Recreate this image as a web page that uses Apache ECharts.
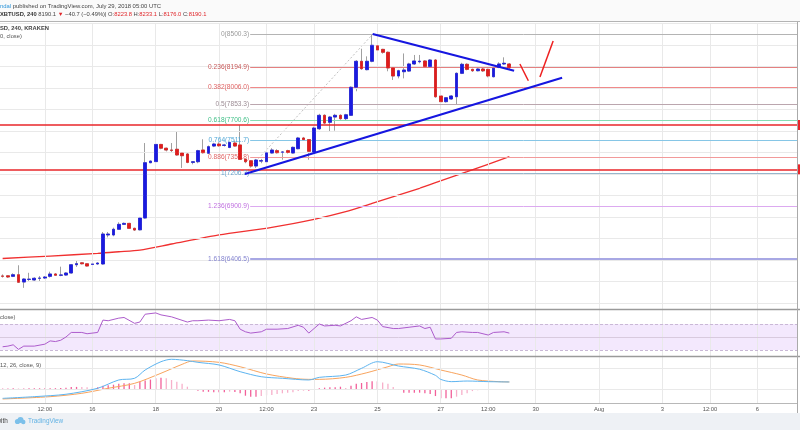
<!DOCTYPE html>
<html><head><meta charset="utf-8">
<script src="https://cdn.jsdelivr.net/npm/echarts@6/dist/echarts.min.js"></script>
<style>html,body{margin:0;padding:0;background:#fff}#c{width:800px;height:430px}</style>
</head><body><div id="c"></div>
<script>
// ---------- data ----------
// 4h slots starting 2018-07-13 04:00 UTC
const slotStart = Date.UTC(2018, 6, 13, 4);
const slotCount = 151;
const categories = [];
for (let k = 0; k < slotCount; k++) {
  const d = new Date(slotStart + k * 4 * 3600 * 1000);
  const p = n => (n < 10 ? '0' : '') + n;
  categories.push(p(d.getUTCMonth() + 1) + '-' + p(d.getUTCDate()) + ' ' + p(d.getUTCHours()) + ':00');
}
const tickCats = ['07-14 12:00','07-16 00:00','07-18 00:00','07-20 00:00','07-21 12:00','07-23 00:00','07-25 00:00','07-27 00:00','07-28 12:00','07-30 00:00','08-01 00:00','08-03 00:00','08-04 12:00','08-06 00:00'];
const tickLabels = ['12:00','16','18','20','12:00','23','25','27','12:00','30','Aug','3','12:00','6'];
const priceGrid = [6000,6200,6400,6600,6800,7000,7200,7400,7600,7800,8000,8200,8400,8600];

const opens  = [6250,6252,6247,6262,6194,6218,6213,6229,6231,6247,6269,6257,6259,6278,6355,6373,6364,6358,6362,6362,
  6632,6632,6685,6731,6740,6694,6680,6790,7305,7315,7475,7440,7423,7430,7395,7386,7308,7314,7423,7393,
  7460,7479,7466,7447,7488,7470,7336,7323,7274,7320,7314,7395,7417,7402,7417,7395,7435,7535,7520,7404,
  7621,7746,7681,7730,7746,7715,7746,8007,8249,8171,8249,8394,8360,8333,8187,8112,8152,8158,8224,8245,
  8252,8199,8261,7926,7873,7898,7919,8137,8221,8174,8161,8177,8174,8105,8193,8224,8223.8];
const highs  = [6265,6258,6275,6350,6230,6280,6238,6250,6250,6290,6278,6337,6285,6362,6390,6380,6370,6368,6378,6660,
  6660,6700,6750,6748,6745,6700,6800,7488,7325,7563,7480,7445,7488,7600,7400,7395,7320,7425,7523,7465,
  7490,7495,7480,7500,7510,7656,7340,7330,7340,7340,7430,7440,7430,7410,7425,7455,7545,7545,7525,7640,
  7760,7755,7740,7760,7755,7760,8015,8260,8366,8295,8503,8490,8365,8340,8190,8170,8322,8235,8308,8308,
  8260,8270,8270,7930,7915,7935,8145,8235,8230,8180,8185,8190,8180,8190,8240,8286,8233.1];
const lows   = [6235,6232,6240,6185,6140,6196,6205,6196,6222,6236,6250,6248,6252,6272,6335,6358,6338,6338,6355,6355,
  6610,6620,6680,6725,6690,6670,6675,6785,7300,7310,7430,7410,7395,7370,7256,7300,7290,7300,7390,7385,
  7450,7455,7455,7440,7455,7330,7300,7260,7255,7300,7305,7390,7390,7333,7390,7390,7430,7515,7333,7395,
  7610,7665,7597,7603,7705,7700,7740,7970,8170,8165,8240,8345,8320,8156,8075,8090,8090,8150,8215,8230,
  8190,8190,7910,7842,7865,7890,7842,8130,8165,8150,8155,8150,8100,8100,8185,8215,8176.0];
const closes = [6248,6241,6262,6192,6222,6221,6229,6231,6241,6269,6257,6260,6278,6355,6365,6364,6343,6362,6371,6641,
  6641,6685,6731,6740,6694,6678,6790,7305,7320,7475,7440,7423,7420,7377,7370,7308,7314,7417,7398,7454,
  7479,7462,7470,7494,7460,7336,7314,7274,7330,7324,7397,7423,7398,7405,7400,7448,7535,7520,7411,7628,
  7746,7674,7730,7746,7715,7751,8007,8249,8180,8249,8398,8354,8333,8187,8112,8161,8168,8224,8252,8250,
  8199,8261,7919,7873,7910,7926,8137,8221,8174,8161,8177,8160,8112,8184,8224,8230.8,8190.1];

// EMA(100) read at selected slots
const emaIdx = [0,9,18,22,26,32,41,51,59,65,70,79,82,88,96];
const emaVal = [6413,6436,6461,6476,6492,6548,6632,6703,6778,6849,6927,7067,7119,7221,7361];

// RSI(14) read at selected slots
const rsiIdx = [0,1,2,3,4,6,8,9,10,11,12,13,15,16,18,19,20,22,23,25,26,27,29,30,32,35,36,37,39,41,43,44,45,46,47,49,50,52,54,56,57,58,59,60,61,63,64,66,67,68,70,71,72,74,75,77,79,80,81,82,83,85,86,87,89,90,92,93,95,96];
const rsiVal = [35,36,38,31,36,36,39,44,43,45,50,57,57,55,57,76,75,79,80,71,73,85,87,84,81,73,75,75,76,75,77,75,62,58,56,58,62,62,63,68,65,56,63,70,67,68,67,75,81,77,80,76,66,63,63,65,67,63,65,47,47,48,57,58,57,57,53,57,58,56];

// MACD(12,26,9)
const macdIdx = [0,6,12,18,22,25,27,30,32,35,37,41,45,49,53,58,60,65,68,71,75,79,82,83,85,88,92,96];
const macdVal = [-89,-73,-50,7,86,102,181,260,283,270,254,229,165,117,102,86,111,133,197,260,219,188,130,92,70,76,70,67];
const sigIdx = [0,9,15,20,25,30,34,36,41,45,50,55,58,60,65,69,73,75,79,83,87,90,94,96];
const sigVal = [-95,-73,-41,7,54,150,235,267,254,212,143,102,92,92,111,155,212,238,229,181,133,86,70,67];
const hist = [4,4,6,5,5,6,6,7,7,8,8,10,12,18,20,18,16,15,16,32,
  35,41,50,54,54,38,70,80,90,102,108,102,86,70,50,22,-5,-16,-25,-27,
  -30,-30,-30,-25,-28,-41,-64,-73,-73,-67,-60,-57,-48,-41,-35,-32,-19,-16,-16,-5,
  7,13,16,16,22,10,32,51,57,67,73,73,63,51,19,-6,-35,-35,-35,-35,
  -41,-48,-67,-89,-89,-89,-73,-57,-41,-20,-12,-10,-8,-8,-6,-5,-5];

// Fibonacci retracement
const fibRatios = [0,0.236,0.382,0.5,0.618,0.764,0.886,1,1.236,1.618];
const fibLevels = [8500.3,8194.9,8006.0,7853.3,7700.6,7511.7,7353.8,7206.3,6900.9,6406.5];
const fibStartSlot = 46.9;
const fibAnchor = [[45.9, 7206.3],[70.1, 8500.3]];
// Drawn lines (slot, price)
const lowerTrend = [[45.9, 7200],[106, 8096]];
const upperTrend = [[70.1, 8503],[96.9, 8161]];
const projDown = [[98.0, 8224],[99.6, 8068]];
const projUp = [[101.8, 8103],[104.3, 8438]];
const srLevels = [7656, 7243];
const lastPrice = 8190.1;

// ---------- chart ----------
const FONT = '"Liberation Sans", Arial, sans-serif';
const fibLine = ['#b4b4b4','#e48080','#f08a8a','#bba6ae','#86dcb4','#86c6e6','#f29a9a','#98b6cc','#dcaaf0','#a8a8e4'];
const fibText = ['#9a9a9a','#c85a5a','#e06464','#9c8c94','#3fbf86','#4ea6d6','#e06464','#6aa6d0','#c070e0','#8484d0'];
const lastSlot = slotCount - 0.5;
const tickIdx = tickCats.map(c => categories.indexOf(c));

const candleData = opens.map((o, i) => [o, closes[i], lows[i], highs[i]]);
const bodyData = opens.map((o, i) => [o, closes[i], Math.min(o, closes[i]), Math.max(o, closes[i])]);
const pairs = (a, b) => a.map((x, i) => [x, b[i]]);

const xc = (gi, show) => ({
  type: 'category', gridIndex: gi, data: categories, boundaryGap: true, show: show,
  axisLine: {show: false}, axisTick: {show: false}, splitLine: {show: false},
  axisLabel: {show: show, interval: (i, v) => tickCats.indexOf(v) >= 0,
    formatter: v => { const k = tickCats.indexOf(v); return k >= 0 ? tickLabels[k] : ''; },
    fontSize: 5.8, color: '#555', margin: 3, fontFamily: FONT}
});
const xv = gi => ({type: 'value', gridIndex: gi, min: -0.5, max: lastSlot, show: false});
const vLines = tickIdx.map(i => ({xAxis: i}));
const gridMark = (extra) => ({silent: true, symbol: ['none','none'], animation: false, label: {show: false},
  lineStyle: {color: '#e9e9e9', width: 1, type: 'solid'}, data: vLines.concat(extra || [])});

const tag = (txt) => ({show: true, position: 'end', formatter: txt, color: '#fff', backgroundColor: '#e8262a',
  padding: [2, 3], fontSize: 6, distance: 0, fontFamily: FONT});

const series = [
  {type: 'line', xAxisIndex: 3, yAxisIndex: 0, data: [], z: 1, markLine: gridMark(priceGrid.map(p => ({yAxis: p})))},
  {type: 'line', xAxisIndex: 4, yAxisIndex: 1, data: [], z: 1, markLine: gridMark()},
  {type: 'line', xAxisIndex: 5, yAxisIndex: 2, data: [], z: 1, markLine: gridMark([{yAxis: 0}, {yAxis: 200}])},
  {type: 'line', xAxisIndex: 3, yAxisIndex: 0, data: [], z: 2, markLine: {
    silent: true, symbol: ['none','none'], animation: false,
    data: fibLevels.map((lv, k) => [
      {coord: [fibStartSlot, lv], lineStyle: {color: fibLine[k], width: k === 9 ? 2 : 1, type: 'solid'},
       label: {show: true, position: 'start', distance: 1, formatter: fibRatios[k] + '(' + lv.toFixed(1) + ')',
         color: fibText[k], fontSize: 6.6, fontFamily: FONT}},
      {coord: [lastSlot, lv]}])
  }},
  {type: 'line', xAxisIndex: 3, yAxisIndex: 0, data: fibAnchor, z: 2, symbol: 'none', silent: true,
    lineStyle: {color: '#b0b0b0', width: 0.8, type: [2, 2]}},
  {type: 'line', xAxisIndex: 3, yAxisIndex: 0, data: pairs(emaIdx, emaVal), z: 3, symbol: 'none', smooth: 0.25, silent: true,
    lineStyle: {color: '#f03030', width: 1.3}},
  {type: 'candlestick', xAxisIndex: 0, yAxisIndex: 0, data: candleData, z: 4, barWidth: 3.2, silent: true,
    itemStyle: {color: '#a0a0a0', color0: '#a0a0a0', borderColor: '#a0a0a0', borderColor0: '#a0a0a0', borderColorDoji: '#a0a0a0', borderWidth: 1}},
  {type: 'candlestick', xAxisIndex: 0, yAxisIndex: 0, data: bodyData, z: 5, barWidth: 3.2, silent: true,
    itemStyle: {color: '#1a1ae0', color0: '#e01c1c', borderColor: '#1a1ae0', borderColor0: '#e01c1c', borderColorDoji: '#555', borderWidth: 0.7}},
  {type: 'line', xAxisIndex: 3, yAxisIndex: 0, data: [], z: 6, markLine: {
    silent: true, symbol: ['none','none'], animation: false,
    data: srLevels.map(v => ({yAxis: v, lineStyle: {color: '#e8262a', width: 1.6, type: 'solid'}, label: tag(v.toFixed(1))}))
      .concat([{yAxis: lastPrice, lineStyle: {opacity: 0}, label: tag(lastPrice.toFixed(1))}])
  }},
  {type: 'line', xAxisIndex: 3, yAxisIndex: 0, data: lowerTrend, z: 6, symbol: 'none', silent: true, lineStyle: {color: '#1616e0', width: 2.2}},
  {type: 'line', xAxisIndex: 3, yAxisIndex: 0, data: upperTrend, z: 6, symbol: 'none', silent: true, lineStyle: {color: '#1616e0', width: 2.2}},
  {type: 'line', xAxisIndex: 3, yAxisIndex: 0, data: projDown, z: 6, symbol: 'none', silent: true, lineStyle: {color: '#ee2020', width: 1.5}},
  {type: 'line', xAxisIndex: 3, yAxisIndex: 0, data: projUp, z: 6, symbol: 'none', silent: true, lineStyle: {color: '#ee2020', width: 1.5}},
  {type: 'line', xAxisIndex: 4, yAxisIndex: 1, data: pairs(rsiIdx, rsiVal), z: 5, symbol: 'none', silent: true,
    lineStyle: {color: '#ad5ccc', width: 1},
    markArea: {silent: true, itemStyle: {color: 'rgba(195,140,245,0.2)'}, data: [[{yAxis: 30}, {yAxis: 70}]]},
    markLine: {silent: true, symbol: ['none','none'], animation: false, label: {show: false},
      data: [{yAxis: 70, lineStyle: {color: '#c9b8d6', type: [3, 2], width: 1}},
             {yAxis: 30, lineStyle: {color: '#c9b8d6', type: [3, 2], width: 1}},
             {yAxis: 50, lineStyle: {color: '#d8cade', type: 'solid', width: 1}}]}},
  {type: 'bar', xAxisIndex: 2, yAxisIndex: 2, data: hist, z: 3, barWidth: 1.3, silent: true,
    itemStyle: {color: p => { const i = p.dataIndex; const pv = i > 0 ? hist[i - 1] : 0;
      return Math.abs(hist[i]) >= Math.abs(pv) ? '#f2609a' : '#f7b0ca'; }}},
  {type: 'line', xAxisIndex: 5, yAxisIndex: 2, data: pairs(sigIdx, sigVal), z: 4, symbol: 'none', smooth: 0.3, silent: true,
    lineStyle: {color: '#f8a45e', width: 1}},
  {type: 'line', xAxisIndex: 5, yAxisIndex: 2, data: pairs(macdIdx, macdVal), z: 5, symbol: 'none', smooth: 0.3, silent: true,
    lineStyle: {color: '#5db4f0', width: 1}}
];

const txt = (x, y, text, extra) => Object.assign({type: 'text', x: x, y: y, z: 50, silent: true,
  style: Object.assign({text: text, fill: '#444', fontSize: 5.8, fontFamily: FONT, verticalAlign: 'middle'}, extra || {})});
const ln = (x1, y1, x2, y2, stroke, w) => ({type: 'line', z: 40, silent: true, shape: {x1, y1, x2, y2}, style: {stroke, lineWidth: w}});

const graphic = [
  {type: 'rect', z: 0, silent: true, shape: {x: 0, y: 0, width: 800, height: 21}, style: {fill: '#fafafa'}},
  ln(0, 21.5, 800, 21.5, '#b4b4b4', 1),
  ln(0, 309.5, 800, 309.5, '#9a9a9a', 1.5),
  ln(0, 356.5, 800, 356.5, '#9a9a9a', 1.5),
  ln(0, 403.5, 798, 403.5, '#b8b8b8', 1),
  ln(797.5, 22, 797.5, 413, '#aaaaaa', 1),
  {type: 'rect', z: 40, silent: true, shape: {x: 0, y: 413, width: 800, height: 17}, style: {fill: '#eef1f5'}},
  txt(0, 6, '{a|ndal}{t| published on TradingView.com, July 29, 2018 05:00 UTC}', {rich: {
    a: {fill: '#2f96da', fontSize: 5.9, fontFamily: FONT}, t: {fill: '#444', fontSize: 5.9, fontFamily: FONT}}}),
  txt(0, 14.5, '{b|XBTUSD, 240} {t|8190.1 }{r|▼}{t| \u221240.7 (\u22120.49%)| O:}{r|8223.8}{t| H:}{r|8233.1}{t| L:}{r|8176.0}{t| C:}{r|8190.1}', {rich: {
    b: {fill: '#333', fontSize: 5.8, fontWeight: 'bold', fontFamily: FONT},
    t: {fill: '#444', fontSize: 5.8, fontFamily: FONT},
    r: {fill: '#e0262a', fontSize: 5.8, fontFamily: FONT}}}),
  txt(0, 28, 'SD, 240, KRAKEN', {fontWeight: 'bold', fill: '#444'}),
  txt(0, 36, '0, close)', {fill: '#555'}),
  txt(0, 317, 'close)', {fill: '#555'}),
  txt(0, 365, '12, 26, close, 9)', {fill: '#555'}),
  txt(-3.6, 421.5, 'with', {fill: '#444', fontSize: 6.4}),
  {type: 'circle', z: 45, silent: true, shape: {cx: 17.5, cy: 421.5, r: 2.6}, style: {fill: '#7cc0ea'}},
  {type: 'circle', z: 45, silent: true, shape: {cx: 20.5, cy: 420, r: 3}, style: {fill: '#7cc0ea'}},
  {type: 'circle', z: 45, silent: true, shape: {cx: 23.3, cy: 422, r: 2.2}, style: {fill: '#7cc0ea'}},
  txt(28, 421.5, 'TradingView', {fill: '#63b3e4', fontSize: 6.4})
];

const chart = echarts.init(document.getElementById('c'), null, {renderer: 'canvas'});
chart.setOption({
  animation: false,
  backgroundColor: '#ffffff',
  grid: [
    {left: 0, width: 797, top: 23, height: 286},
    {left: 0, width: 797, top: 310, height: 46},
    {left: 0, width: 797, top: 357, height: 46}
  ],
  xAxis: [xc(0, false), xc(1, false), xc(2, true), xv(0), xv(1), xv(2)],
  yAxis: [
    {type: 'value', gridIndex: 0, min: 5942.9, max: 8605.5, show: false},
    {type: 'value', gridIndex: 1, min: 20.8, max: 91.5, show: false},
    {type: 'value', gridIndex: 2, min: -133.3, max: 304.8, show: false}
  ],
  series: series,
  graphic: graphic
});
</script></body></html>
